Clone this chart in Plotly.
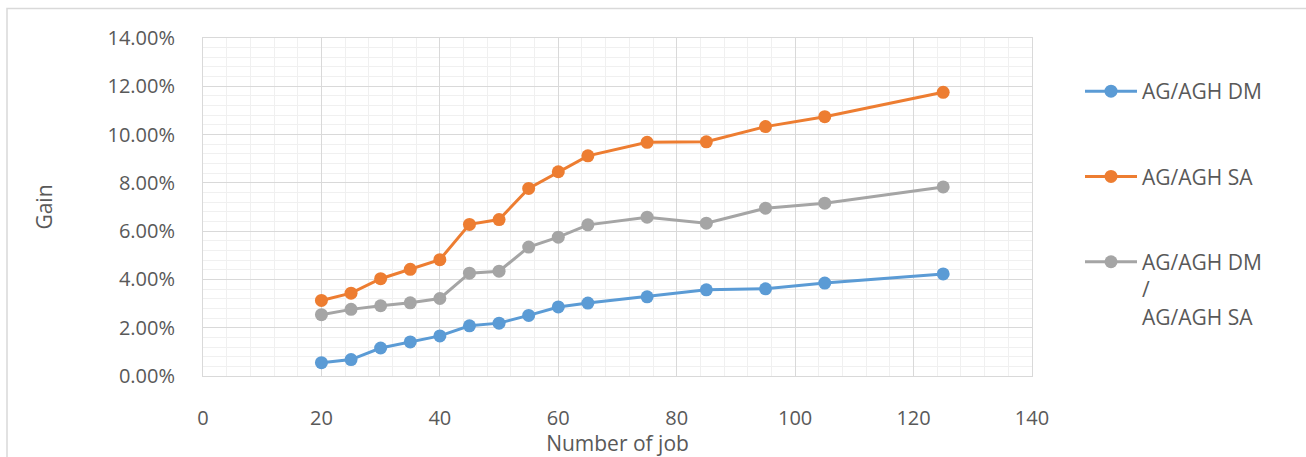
import plotly.graph_objects as go

# Number of jobs per test instance
jobs = [20, 25, 30, 35, 40, 45, 50, 55, 60, 65, 75, 85, 95, 105, 125]

# Gain in percent for each comparison
gain_dm = [0.55, 0.68, 1.16, 1.41, 1.66, 2.08, 2.19, 2.51, 2.86, 3.02, 3.28, 3.57, 3.61, 3.85, 4.23]
gain_sa = [3.13, 3.43, 4.03, 4.42, 4.82, 6.28, 6.48, 7.77, 8.46, 9.12, 9.68, 9.70, 10.33, 10.74, 11.75]
gain_dm_sa = [2.54, 2.76, 2.91, 3.03, 3.21, 4.26, 4.34, 5.34, 5.75, 6.26, 6.58, 6.33, 6.95, 7.16, 7.83]

series_names = ["AG/AGH DM", "AG/AGH SA", "AG/AGH DM<br>/<br>AG/AGH SA"]
series_colors = ["#5B9BD5", "#ED7D31", "#A5A5A5"]

FONT = "Open Sans"
TEXT = "#595959"
TICK_SIZE = 20
LEGEND_SIZE = 21
TITLE_SIZE = 21

fig = go.Figure()
for i, (name, vals, col) in enumerate(zip(series_names, [gain_dm, gain_sa, gain_dm_sa], series_colors)):
    fig.add_trace(go.Scatter(
        x=jobs, y=vals, name=name, mode="lines+markers",
        line=dict(color=col, width=3),
        marker=dict(color=col, size=13),
        legendgroup=f"g{i}",
        cliponaxis=False,
    ))

# plot area in pixels: x 203..1032, y 38..376
L, R, T, B = 203, 1032, 38, 376
W, H = R - L, B - T

fig.update_layout(
    width=1306, height=457,
    margin=dict(l=L, r=1306 - R, t=T, b=457 - B, autoexpand=False),
    paper_bgcolor="white", plot_bgcolor="white",
    font=dict(family=FONT, size=TICK_SIZE, color=TEXT),
    showlegend=True,
    legend=dict(
        x=(1080 - L) / W, xanchor="left",
        y=(B - 71) / H, yanchor="top",
        tracegroupgap=55, valign="top",
        itemwidth=52, bgcolor="rgba(0,0,0,0)",
        font=dict(family=FONT, size=LEGEND_SIZE, color=TEXT),
    ),
    xaxis=dict(
        range=[0, 140], dtick=20, tick0=0,
        showgrid=True, gridcolor="#d9d9d9", gridwidth=1,
        minor=dict(dtick=4, showgrid=True, gridcolor="#f0f0f0", gridwidth=1),
        showline=True, mirror=True, linecolor="#d9d9d9", linewidth=1,
        zeroline=False,
        ticks="outside", ticklen=24, tickcolor="rgba(0,0,0,0)",
        tickfont=dict(family=FONT, size=TICK_SIZE, color=TEXT),
        title=dict(text="Number of job", standoff=2,
                   font=dict(family=FONT, size=TITLE_SIZE, color=TEXT)),
    ),
    yaxis=dict(
        range=[0, 14], dtick=2, tick0=0,
        tickformat=".2f", ticksuffix="%",
        showgrid=True, gridcolor="#d9d9d9", gridwidth=1,
        minor=dict(dtick=0.4, showgrid=True, gridcolor="#f0f0f0", gridwidth=1),
        showline=True, mirror=True, linecolor="#d9d9d9", linewidth=1,
        zeroline=False,
        ticks="outside", ticklen=23, tickcolor="rgba(0,0,0,0)",
        tickfont=dict(family=FONT, size=TICK_SIZE, color=TEXT),
        title=dict(text="Gain", standoff=49,
                   font=dict(family=FONT, size=TITLE_SIZE, color=TEXT)),
    ),
)

# light frame around the chart area
fig.add_shape(
    type="rect", xref="paper", yref="paper",
    x0=(7 - L) / W, x1=(1320 - L) / W,
    y0=(B - 470) / H, y1=(B - 8.5) / H,
    line=dict(color="#d9d9d9", width=1.5), fillcolor="rgba(0,0,0,0)",
    layer="below",
)

fig.write_html("out.html")
